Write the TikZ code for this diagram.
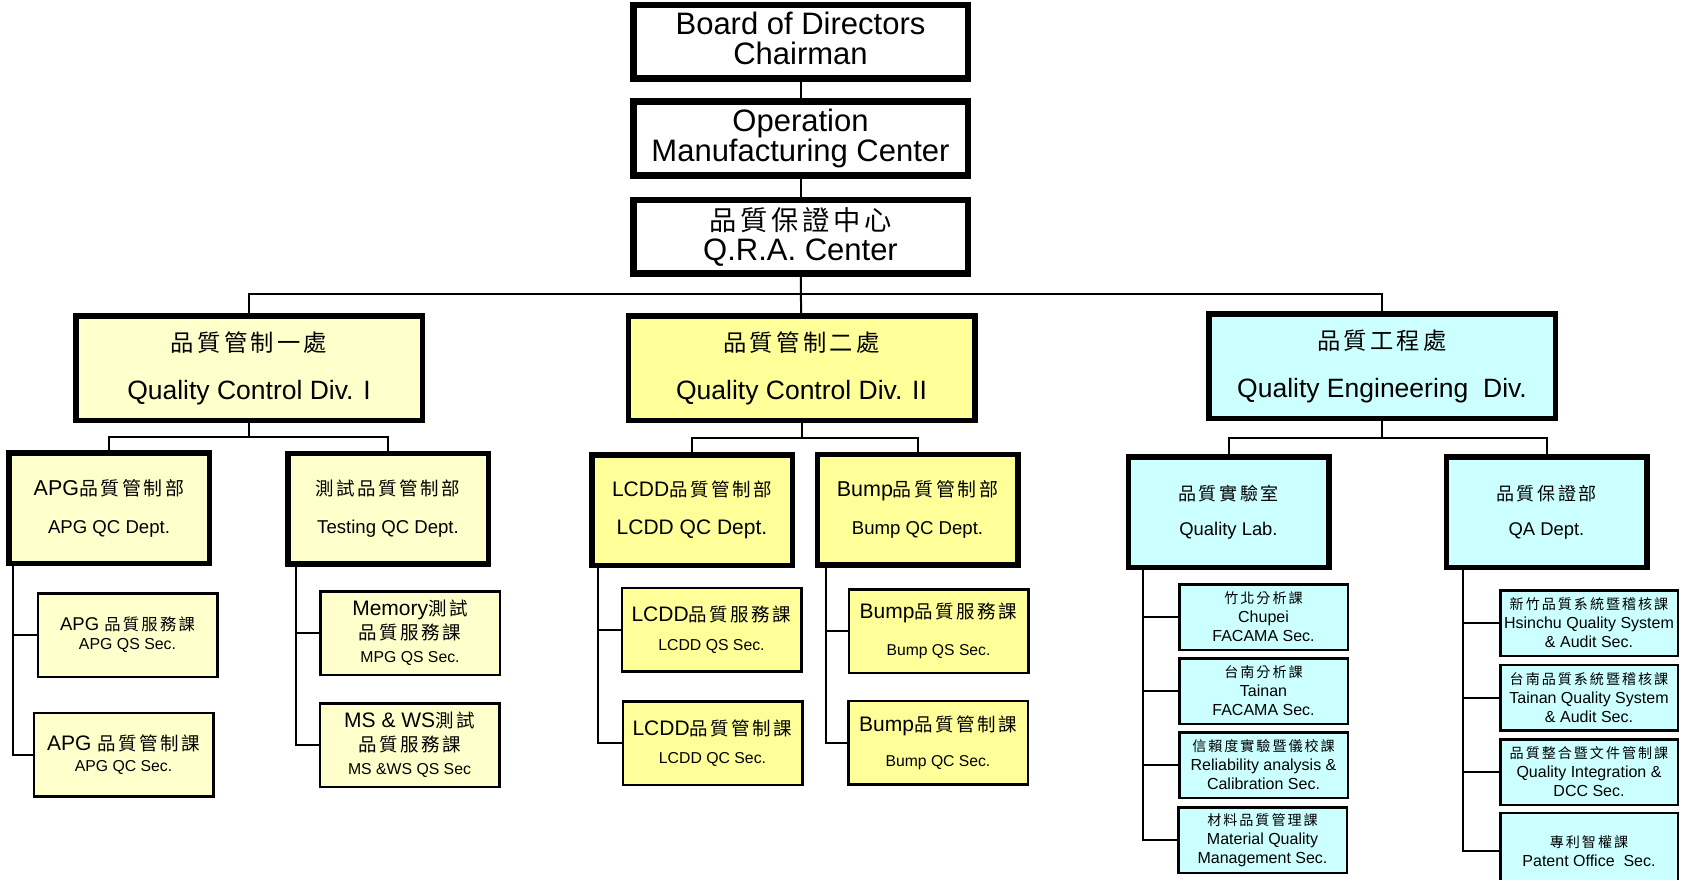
\documentclass[tikz,border=0pt]{standalone}
\usepackage{fontspec}
\setmainfont{Liberation Sans}
\newfontfamily\cjkfont[Scale=0.88,LetterSpace=14]{Noto Sans CJK TC}
\newcommand{\zhtext}[1]{{\cjkfont #1}}
\newcommand{\fsz}[2]{\fontsize{#1}{#2}\selectfont}
\usetikzlibrary{positioning}
\definecolor{lightyel}{HTML}{FFFFCC}
\definecolor{yel}{HTML}{FFFF99}
\definecolor{lightcy}{HTML}{CCFFFF}

\tikzset{
  topbox/.style={draw, line width=6.5pt, fill=white, minimum width=334.5pt, minimum height=73.5pt,
    inner sep=0pt, align=center, font=\fsz{31}{30}},
  divbox/.style={draw, line width=5.5pt, minimum width=346.5pt, minimum height=104.5pt,
    inner sep=0pt, align=center, font=\fsz{26.5}{48}},
  deptbox/.style={draw, line width=5.5pt, minimum width=200.5pt, minimum height=110.5pt,
    inner sep=0pt, align=center, font=\fsz{18.6}{38}},
  secbox/.style={draw, line width=2.5pt, minimum width=179.5pt, minimum height=83.5pt,
    inner sep=0pt, align=center, font=\fsz{15.8}{21}},
  qebox/.style={draw, line width=2.5pt, fill=lightcy, minimum width=168.5pt, minimum height=65.5pt,
    inner sep=0pt, align=center, font=\fsz{16}{19}},
  link/.style={line width=2pt},
}

\begin{document}
\begin{tikzpicture}[x=1pt,y=-1pt]
\useasboundingbox (0,0) rectangle (1681,880);

% top of the chart
\node[topbox, text depth=7pt] (board) at (800.5,42) {Board of Directors\\Chairman};
\node[topbox] (omc) at (800.5,138.5) {Operation\\Manufacturing Center};
\node[topbox] (qra) at (800.5,236.5) {\zhtext{品質保證中心}\\Q.R.A. Center};

% divisions
\node[divbox, fill=lightyel] (div1) at (249,368) {\zhtext{品質管制一處}\\Quality Control Div. I};
\node[divbox, fill=yel] (div2) at (801.5,368) {\zhtext{品質管制二處}\\Quality Control Div. II};
\node[divbox, fill=lightcy] (div3) at (1382,366) {\zhtext{品質工程處}\\Quality Engineering\ \ Div.};

% departments
\node[deptbox, fill=lightyel] (apg) at (109,508) {{\fsz{21.5}{38}APG\zhtext{品質管制部}}\\APG QC Dept.};
\node[deptbox, fill=lightyel] (tst) at (388,508.5) {{\fsz{21}{38}\zhtext{測試品質管制部}}\\Testing QC Dept.};
\node[deptbox, fill=yel, font=\fsz{21}{38}] (lcdd) at (692,510) {LCDD\zhtext{品質管制部}\\LCDD QC Dept.};
\node[deptbox, fill=yel] (bump) at (917.5,509.5) {{\fsz{21.5}{38}Bump\zhtext{品質管制部}}\\Bump QC Dept.};
\node[deptbox, fill=lightcy, font=\fsz{18.4}{35}] (lab) at (1228.5,512) {{\fsz{20.5}{35}\zhtext{品質實驗室}}\\Quality Lab.};
\node[deptbox, fill=lightcy, font=\fsz{18.4}{35}] (qa) at (1546.5,512) {{\fsz{20.5}{35}\zhtext{品質保證部}}\\QA Dept.};

% sections under QC Div. I
\node[secbox, fill=lightyel, font=\fsz{15.9}{19}] (apgqs) at (127.5,635) {{\fsz{18.5}{19}APG \zhtext{品質服務課}}\\APG QS Sec.};
\node[secbox, fill=lightyel] (apgqc) at (123.5,754.5) {{\fsz{21}{21}APG \zhtext{品質管制課}}\\APG QC Sec.};
\node[secbox, fill=lightyel, font=\fsz{15.8}{23.5}] (mpg) at (410,633) {{\fsz{21}{23.5}Memory\zhtext{測試}}\\{\fsz{21}{23.5}\zhtext{品質服務課}}\\MPG QS Sec.};
\node[secbox, fill=lightyel, font=\fsz{15.8}{23.5}] (msws) at (409.5,745) {{\fsz{21}{23.5}MS \& WS\zhtext{測試}}\\{\fsz{21}{23.5}\zhtext{品質服務課}}\\MS \&WS QS Sec};

% sections under QC Div. II
\node[secbox, fill=yel, font=\fsz{15.8}{29}] (lcddqs) at (711.5,629.5) {{\fsz{21}{29}LCDD\zhtext{品質服務課}}\\LCDD QS Sec.};
\node[secbox, fill=yel, font=\fsz{15.8}{28}] (lcddqc) at (712.5,743) {{\fsz{21}{28}LCDD\zhtext{品質管制課}}\\LCDD QC Sec.};
\node[secbox, fill=yel, font=\fsz{15.7}{37}] (bumpqs) at (938.5,631) {{\fsz{21}{37}Bump\zhtext{品質服務課}}\\Bump QS Sec.};
\node[secbox, fill=yel, font=\fsz{15.7}{35}] (bumpqc) at (938,742.5) {{\fsz{21}{35}Bump\zhtext{品質管制課}}\\Bump QC Sec.};

% sections under QE Div.
\node[qebox] (chupei) at (1263.5,617) {\zhtext{竹北分析課}\\Chupei\\FACAMA Sec.};
\node[qebox] (tainan) at (1263.5,691) {\zhtext{台南分析課}\\Tainan\\FACAMA Sec.};
\node[qebox] (rel) at (1263.5,765) {\zhtext{信賴度實驗暨儀校課}\\Reliability analysis \&\\Calibration Sec.};
\node[qebox] (mat) at (1262.5,840) {\zhtext{材料品質管理課}\\Material Quality\\Management Sec.};
\node[qebox, minimum width=177.5pt] (hsq) at (1589,623) {\zhtext{新竹品質系統暨稽核課}\\Hsinchu Quality System\\\& Audit Sec.};
\node[qebox, minimum width=177.5pt] (tnq) at (1589,697.5) {\zhtext{台南品質系統暨稽核課}\\Tainan Quality System\\\& Audit Sec.};
\node[qebox, minimum width=177.5pt] (qidcc) at (1589,772) {\zhtext{品質整合暨文件管制課}\\Quality Integration \&\\DCC Sec.};
\node[qebox, minimum width=177.5pt, minimum height=76pt] (patent) at (1589,851) {\zhtext{專利智權課}\\Patent Office\ \ Sec.};

% links
\coordinate (bus) at (801,294);
\draw[link] (board) -- (omc);
\draw[link] (omc) -- (qra);
\draw[link] (qra) -- (div2);
\draw[link] (div1.north) |- (bus) -| (div3.north);

\coordinate (b1) at (249,437);
\coordinate (b2) at (801.5,438);
\coordinate (b3) at (1382,438);
\draw[link] (div1) -- (b1);
\draw[link] (apg.north) |- (b1) -| (tst.north);
\draw[link] (div2) -- (b2);
\draw[link] (lcdd.north) |- (b2) -| (bump.north);
\draw[link] (div3) -- (b3);
\draw[link] (lab.north) |- (b3) -| (qa.north);

\coordinate (s1) at ([xshift=7pt]apg.south west);
\coordinate (s2) at ([xshift=11pt]tst.south west);
\coordinate (s3) at ([xshift=9pt]lcdd.south west);
\coordinate (s4) at ([xshift=11pt]bump.south west);
\coordinate (s5) at ([xshift=17pt]lab.south west);
\coordinate (s6) at ([xshift=19pt]qa.south west);
\draw[link] (s1) |- (apgqs.west);
\draw[link] (s1) |- (apgqc.west);
\draw[link] (s2) |- (mpg.west);
\draw[link] (s2) |- (msws.west);
\draw[link] (s3) |- (lcddqs.west);
\draw[link] (s3) |- (lcddqc.west);
\draw[link] (s4) |- (bumpqs.west);
\draw[link] (s4) |- (bumpqc.west);
\foreach \sec in {chupei,tainan,rel,mat}
  \draw[link] (s5) |- (\sec.west);
\foreach \sec in {hsq,tnq,qidcc,patent}
  \draw[link] (s6) |- (\sec.west);
\end{tikzpicture}
\end{document}
